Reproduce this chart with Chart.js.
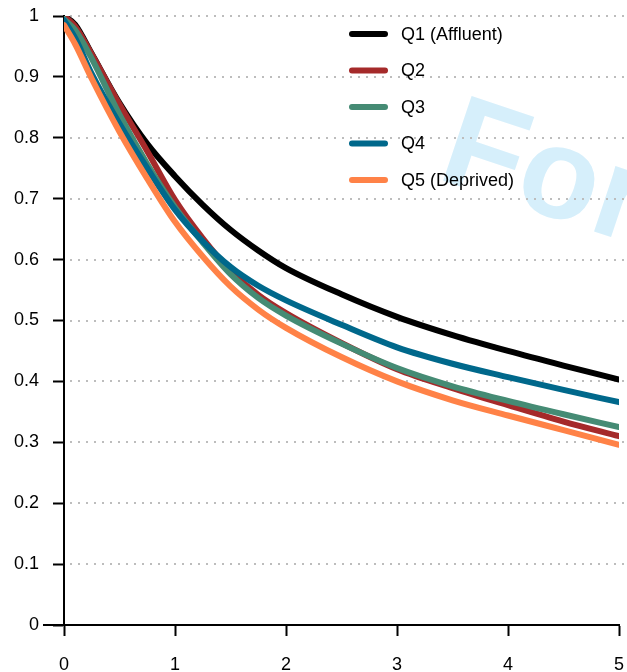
<!DOCTYPE html>
<html>
<head>
<meta charset="utf-8">
<script src="https://cdn.jsdelivr.net/npm/chart.js@4/dist/chart.umd.min.js"></script>
<style>
  html, body { margin: 0; padding: 0; background: #fff; }
  canvas { display: block; }
</style>
</head>
<body>
<canvas id="chart" width="627" height="672"></canvas>
<script>
// years since baseline (x) and survival share per quintile (y)
const xValues = [0, 0.1, 0.25, 0.5, 0.75, 1, 1.25, 1.5, 1.75, 2, 2.5, 3, 3.5, 4, 4.5, 5];
const q1 = [1.0, 0.986, 0.938, 0.857, 0.790, 0.737, 0.690, 0.649, 0.615, 0.586, 0.543, 0.506, 0.476, 0.450, 0.426, 0.403];
const q2 = [1.0, 0.983, 0.937, 0.855, 0.778, 0.698, 0.635, 0.582, 0.542, 0.512, 0.463, 0.420, 0.389, 0.361, 0.334, 0.310];
const q3 = [0.995, 0.977, 0.930, 0.838, 0.757, 0.686, 0.628, 0.576, 0.537, 0.508, 0.462, 0.422, 0.392, 0.368, 0.346, 0.325];
const q4 = [0.993, 0.964, 0.905, 0.823, 0.750, 0.682, 0.630, 0.588, 0.557, 0.533, 0.493, 0.456, 0.429, 0.407, 0.386, 0.366];
const q5 = [0.985, 0.954, 0.897, 0.810, 0.733, 0.662, 0.605, 0.556, 0.518, 0.488, 0.440, 0.400, 0.369, 0.344, 0.320, 0.296];

const seriesLabels = ["Q1 (Affluent)", "Q2", "Q3", "Q4", "Q5 (Deprived)"];
const seriesValues = [q1, q2, q3, q4, q5];
const seriesColors = ["#000000", "#a52a2a", "#458b74", "#00688b", "#ff8247"];
const xTicks = [0, 1, 2, 3, 4, 5];

const FONT = "'Liberation Sans', Arial, Helvetica, sans-serif";

function toPoints(values) {
  return values.map((y, i) => ({ x: xValues[i], y: y }));
}

const datasets = seriesValues.map((vals, i) => ({
  label: seriesLabels[i],
  data: toPoints(vals),
  borderColor: seriesColors[i],
  backgroundColor: seriesColors[i],
  borderWidth: 6,
  borderCapStyle: "round",
  borderJoinStyle: "round",
  pointRadius: 0,
  cubicInterpolationMode: "monotone",
  order: seriesValues.length - i, // later quintiles on top
}));

const decor = {
  id: "decor",
  beforeDraw(chart) {
    const ctx = chart.ctx;
    // watermark
    ctx.save();
    ctx.translate(435, 178);
    ctx.rotate((18.5 * Math.PI) / 180);
    ctx.fillStyle = "#d6effb";
    ctx.font = "bold 130px " + FONT;
    ctx.textBaseline = "alphabetic";
    ctx.fillText("For illustration", 0, 0);
    ctx.restore();
  },
  beforeDatasetsDraw(chart) {
    const ctx = chart.ctx;
    const y = chart.scales.y;
    const area = chart.chartArea;
    ctx.save();
    ctx.strokeStyle = "#bdbdbd";
    ctx.lineWidth = 2;
    ctx.setLineDash([2, 6]);
    y.ticks.forEach((t) => {
      if (t.value <= 0) return;
      const py = Math.round(y.getPixelForValue(t.value));
      ctx.beginPath();
      ctx.moveTo(area.left + 6, py);
      ctx.lineTo(chart.width, py);
      ctx.stroke();
    });
    ctx.restore();
  },
  afterDraw(chart) {
    const ctx = chart.ctx;
    const y = chart.scales.y;
    const area = chart.chartArea;
    ctx.save();
    // axis line continues a little left of the y axis at zero
    ctx.strokeStyle = "#000";
    ctx.lineWidth = 2;
    const y0 = y.getPixelForValue(0);
    ctx.beginPath();
    ctx.moveTo(43, y0);
    ctx.lineTo(area.left, y0);
    ctx.stroke();

    // legend
    ctx.font = "18px " + FONT;
    ctx.textBaseline = "middle";
    ctx.lineCap = "round";
    ctx.lineWidth = 6;
    chart.data.datasets.forEach((ds, i) => {
      const ly = 34 + i * 36.5;
      ctx.strokeStyle = ds.borderColor;
      ctx.beginPath();
      ctx.moveTo(352, ly);
      ctx.lineTo(385, ly);
      ctx.stroke();
      ctx.fillStyle = "#000";
      ctx.fillText(ds.label, 401, ly + 1);
    });
    ctx.restore();
  },
};

new Chart(document.getElementById("chart"), {
  type: "line",
  data: { datasets: datasets },
  plugins: [decor],
  options: {
    responsive: false,
    animation: false,
    layout: { padding: { top: 16, right: 8, left: 0, bottom: 0 } },
    plugins: {
      legend: { display: false },
      tooltip: { enabled: false },
    },
    scales: {
      x: {
        type: "linear",
        min: 0,
        max: 5,
        afterBuildTicks: (s) => {
          s.ticks = xTicks.map((v) => ({ value: v }));
        },
        afterFit: (s) => {
          s.height = 47;
          s.paddingLeft = 0;
          s.paddingRight = 0;
        },
        grid: {
          drawOnChartArea: false,
          drawTicks: true,
          tickLength: 11,
          tickWidth: 2,
          tickColor: "#000",
        },
        border: { display: true, color: "#000", width: 2 },
        ticks: {
          color: "#000",
          padding: 18,
          maxRotation: 0,
          font: { family: FONT, size: 18 },
        },
      },
      y: {
        type: "linear",
        min: 0,
        max: 1,
        afterFit: (s) => {
          s.width = 64;
          s.paddingTop = 0;
          s.paddingBottom = 0;
        },
        grid: {
          drawOnChartArea: false,
          drawTicks: true,
          tickLength: 11,
          tickWidth: 2,
          tickColor: "#000",
        },
        border: { display: true, color: "#000", width: 2 },
        ticks: {
          stepSize: 0.1,
          color: "#000",
          padding: 14,
          font: { family: FONT, size: 18 },
          callback: (v) => String(+v.toFixed(1)),
        },
      },
    },
  },
});
</script>
</body>
</html>
